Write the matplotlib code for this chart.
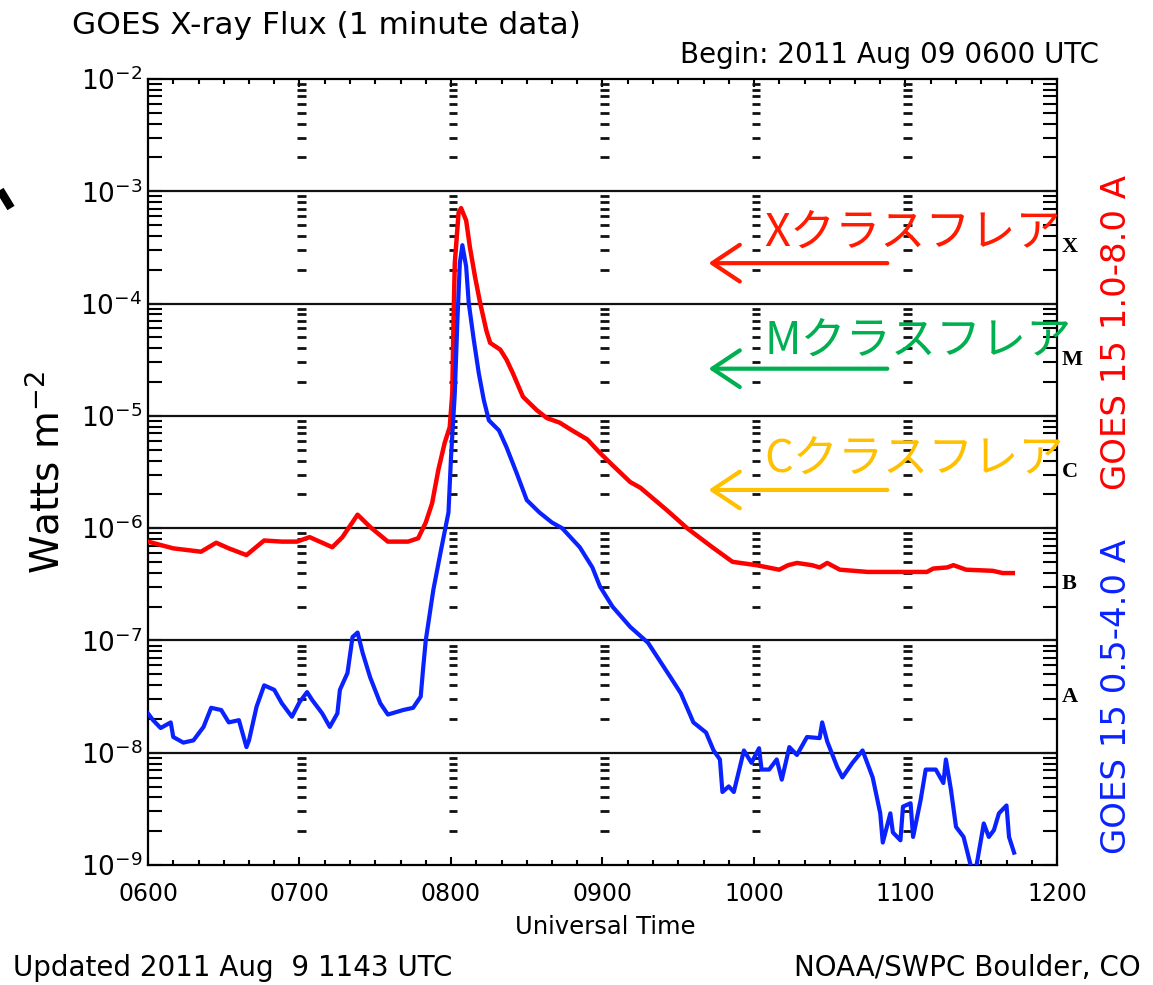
import numpy as np
import matplotlib.pyplot as plt
from matplotlib.lines import Line2D
from matplotlib.ticker import NullFormatter

# GOES-15 X-ray flux, 2011 Aug 09: minutes after 0600 UT, log10(W m^-2)
long_min = [0, 10, 21, 27, 32, 39, 46, 53, 59, 64, 73, 77, 83, 88, 95, 103, 107, 110,
            112.5, 115, 117.5, 119.5, 120.5, 121, 121.5, 123, 124, 126, 127.5, 129.5,
            131.5, 134, 135.5, 139.5, 142, 144.5, 148.5, 154, 158, 163, 168, 174, 179,
            184, 191, 195, 205.5, 213.5, 223.5, 231.5, 241, 250, 253.5, 257, 263, 266,
            269, 274, 285, 308.5, 311, 316.5, 319, 324, 334.5, 338.5, 342.5]
long_log = [-6.12, -6.18, -6.21, -6.13, -6.18, -6.24, -6.11, -6.12, -6.12, -6.08, -6.17,
            -6.08, -5.88, -5.99, -6.12, -6.12, -6.09, -5.95, -5.78, -5.48, -5.24, -5.10,
            -4.80, -4.15, -3.64, -3.19, -3.15, -3.26, -3.50, -3.76, -3.99, -4.24, -4.35,
            -4.41, -4.50, -4.62, -4.83, -4.95, -5.02, -5.06, -5.13, -5.21, -5.33, -5.44,
            -5.59, -5.64, -5.84, -6.00, -6.17, -6.30, -6.33, -6.37, -6.33, -6.31, -6.33,
            -6.35, -6.31, -6.37, -6.39, -6.39, -6.36, -6.35, -6.33, -6.37, -6.38, -6.40,
            -6.40]

short_min = [0, 2, 5, 9, 10, 14, 18, 22, 25, 29, 32, 36, 39, 40, 43, 46, 50, 53, 57, 60,
             63, 65, 69, 72, 75, 76, 79, 81, 83, 85, 88, 92, 95, 101, 105, 108, 109, 110,
             113, 116, 119, 120, 121.5, 122.5, 123.5, 124.5, 126, 127, 129, 131, 133, 135,
             139, 142, 146, 150, 155, 160, 164, 171, 176, 179, 184, 191, 198, 207, 211,
             216, 221, 224, 226.5, 227.5, 230, 232, 236, 239, 242, 243, 246, 249, 251,
             254, 257, 261, 266, 267, 269, 273, 275, 279, 283, 287, 290, 291, 294, 295,
             298, 299, 302, 303, 306, 308, 312, 315, 316, 318, 320, 323, 326, 328, 329,
             331, 333, 335, 337, 340, 341, 343]
short_log = [-7.65, -7.71, -7.78, -7.73, -7.86, -7.91, -7.89, -7.77, -7.60, -7.62, -7.73,
             -7.71, -7.95, -7.89, -7.59, -7.40, -7.44, -7.56, -7.68, -7.55, -7.46, -7.53,
             -7.65, -7.77, -7.65, -7.44, -7.29, -6.97, -6.93, -7.11, -7.33, -7.56, -7.66,
             -7.62, -7.60, -7.50, -7.24, -7.00, -6.55, -6.20, -5.86, -5.37, -4.80, -4.17,
             -3.64, -3.48, -3.67, -3.99, -4.32, -4.62, -4.86, -5.04, -5.13, -5.28, -5.51,
             -5.75, -5.86, -5.95, -6.00, -6.17, -6.35, -6.52, -6.70, -6.88, -7.02, -7.33,
             -7.47, -7.73, -7.82, -7.98, -8.06, -8.35, -8.30, -8.35, -7.98, -8.09, -7.96,
             -8.15, -8.15, -8.06, -8.24, -7.95, -8.02, -7.86, -7.87, -7.73, -7.90, -8.13,
             -8.22, -8.09, -7.98, -8.22, -8.54, -8.80, -8.54, -8.71, -8.78, -8.48, -8.45,
             -8.75, -8.42, -8.15, -8.15, -8.27, -8.06, -8.33, -8.66, -8.75, -9.02, -9.02,
             -8.89, -8.63, -8.75, -8.69, -8.54, -8.47, -8.75, -8.89]

hour_ticks = [6, 7, 8, 9, 10, 11, 12]
hour_labels = ['0600', '0700', '0800', '0900', '1000', '1100', '1200']
decades = [-9, -8, -7, -6, -5, -4, -3, -2]
class_names = ['A', 'B', 'C', 'M', 'X']
class_centers = [-7.5, -6.5, -5.5, -4.5, -3.5]

flare_text = ['Xクラスフレア', 'Mクラスフレア', 'Cクラスフレア']
flare_color = ['#ff1a00', '#00b050', '#ffc000']
flare_text_y = [-3.37, -4.33, -5.38]
flare_arrow_y = [-3.64, -4.58, -5.66]

plt.rcParams['font.family'] = ['DejaVu Sans']

fig = plt.figure(figsize=(11.53, 9.85), dpi=100)
ax = fig.add_axes([148 / 1153, 1 - 865 / 985, 909 / 1153, 786 / 985])

ax.set_yscale('log')
ax.set_xlim(6, 12)
ax.set_ylim(1e-9, 1e-2)

t_long = 6 + np.array(long_min) / 60
t_short = 6 + np.array(short_min) / 60
ax.plot(t_long, 10.0 ** np.array(long_log), color='#ff0000', lw=3.2, zorder=4)
ax.plot(t_short, 10.0 ** np.array(short_log), color='#0a22ff', lw=3, zorder=4)

# decade lines and the minor-tick dashes repeated at every hour
for d in decades[1:-1]:
    ax.axhline(10.0 ** d, color='#111111', lw=1.6, zorder=2)
minor_vals = [m * 10.0 ** k for k in decades[:-1] for m in range(2, 10)]
for h in hour_ticks[1:-1]:
    ax.hlines(minor_vals, h - 0.015, h + 0.04, color='#111111', lw=2, zorder=2)

ax.set_xticks(hour_ticks)
ax.set_xticklabels(hour_labels)
ax.set_xticks(np.arange(6, 12.01, 1 / 6), minor=True)
ax.set_yticks([10.0 ** d for d in decades])
ax.set_yticklabels([f'$10^{{{d}}}$' for d in decades])
ax.set_yticks(minor_vals, minor=True)
ax.yaxis.set_minor_formatter(NullFormatter())

ax.tick_params(axis='y', which='both', direction='in', left=True, right=True,
               length=10, width=1.5, labelsize=19, pad=4)
ax.tick_params(axis='x', which='major', direction='in', top=True, bottom=True,
               length=6, width=1.5, labelsize=17, pad=12)
ax.tick_params(axis='x', which='minor', direction='in', top=True, bottom=True,
               length=3.5, width=1.5)
for s in ax.spines.values():
    s.set_linewidth(1.6)

# flare class letters on the right edge
for name, c in zip(class_names, class_centers):
    ax.text(1.005, 10.0 ** c, name, transform=ax.get_yaxis_transform(),
            ha='left', va='center', fontsize=16, fontweight='bold',
            family='Liberation Serif')

# class annotations with arrows
for txt, col, ty, ay in zip(flare_text, flare_color, flare_text_y, flare_arrow_y):
    ax.text(10.07, 10.0 ** ty, txt, color=col, fontsize=32.5, ha='left', va='center',
            family=['Noto Sans CJK JP', 'DejaVu Sans'], zorder=6, clip_on=False)
    ax.annotate('', xy=(9.70, 10.0 ** ay), xytext=(10.88, 10.0 ** ay),
                arrowprops=dict(arrowstyle='->,head_length=0.9,head_width=0.6',
                                color=col, lw=3, shrinkA=0, shrinkB=0,
                                mutation_scale=22), zorder=6)

fig.text(72 / 1153, 1 - 25 / 985, 'GOES X-ray Flux (1 minute data)',
         ha='left', va='center', fontsize=22.5)
fig.text(1099 / 1153, 1 - 55 / 985, 'Begin: 2011 Aug 09 0600 UTC',
         ha='right', va='center', fontsize=20)
fig.text(605 / 1153, 1 - 927 / 985, 'Universal Time', ha='center', va='center', fontsize=17.5)
fig.text(13 / 1153, 1 - 968 / 985, 'Updated 2011 Aug  9 1143 UTC',
         ha='left', va='center', fontsize=20)
fig.text(1141 / 1153, 1 - 968 / 985, 'NOAA/SWPC Boulder, CO',
         ha='right', va='center', fontsize=20)
fig.text(48 / 1153, 1 - 472 / 985, 'Watts m$^{-2}$', rotation=90,
         ha='center', va='center', fontsize=28)
fig.text(1117 / 1153, 1 - 333 / 985, 'GOES 15 1.0-8.0 A', rotation=90,
         ha='center', va='center', fontsize=24.5, color='#ff0000')
fig.text(1117 / 1153, 1 - 697 / 985, 'GOES 15 0.5-4.0 A', rotation=90,
         ha='center', va='center', fontsize=24.5, color='#0a22ff')

# black pointer stub at the left edge
fig.add_artist(Line2D([0, 11 / 1153], [1 - 190 / 985, 1 - 208 / 985],
                      color='black', lw=6, solid_capstyle='butt'))

fig.savefig('out.png', dpi=100, facecolor='white')
